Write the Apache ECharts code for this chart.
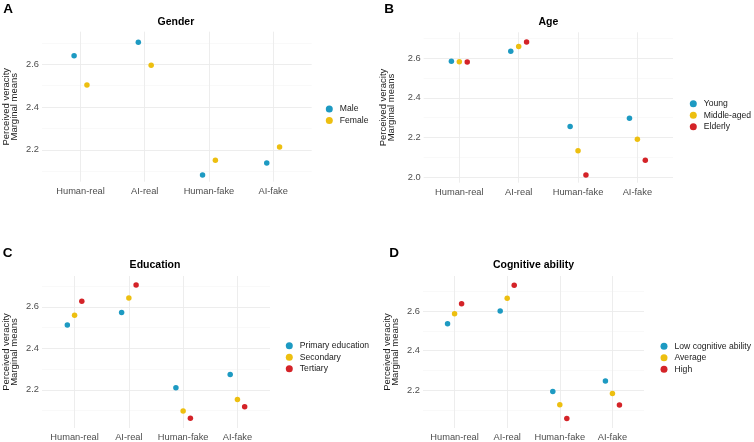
<!DOCTYPE html>
<html>
<head>
<meta charset="utf-8">
<script src="https://cdn.jsdelivr.net/npm/echarts@6/dist/echarts.min.js"></script>
<style>
  html, body { margin: 0; padding: 0; background: #fff; }
  #chart { width: 754px; height: 442px; }
</style>
</head>
<body>
<div id="chart"></div>
<script>
const categories = ['Human-real', 'AI-real', 'Human-fake', 'AI-fake'];

// A - gender
const genderGroups = ['Male', 'Female'];
const genderMale = [2.640, 2.703, 2.083, 2.139];
const genderFemale = [2.503, 2.595, 2.152, 2.214];

// B - age
const ageGroups = ['Young', 'Middle-aged', 'Elderly'];
const ageYoung = [2.585, 2.635, 2.255, 2.297];
const ageMiddle = [2.583, 2.659, 2.132, 2.191];
const ageElderly = [2.581, 2.682, 2.010, 2.085];

// C - education
const eduGroups = ['Primary education', 'Secondary', 'Tertiary'];
const eduPrimary = [2.512, 2.573, 2.210, 2.274];
const eduSecondary = [2.560, 2.643, 2.097, 2.153];
const eduTertiary = [2.627, 2.705, 2.062, 2.118];

// D - cognitive ability
const cogGroups = ['Low cognitive ability', 'Average', 'High'];
const cogLow = [2.537, 2.602, 2.193, 2.246];
const cogAverage = [2.588, 2.666, 2.126, 2.183];
const cogHigh = [2.638, 2.732, 2.056, 2.124];

// y tick labels (major) and minor gridlines
const ticksA = [2.2, 2.4, 2.6];
const ticksB = [2.0, 2.2, 2.4, 2.6];
const ticksC = [2.2, 2.4, 2.6];
const ticksD = [2.2, 2.4, 2.6];
const minorA = [2.1, 2.3, 2.5, 2.7];
const minorB = [2.1, 2.3, 2.5, 2.7];
const minorC = [2.1, 2.3, 2.5, 2.7];
const minorD = [2.1, 2.3, 2.5, 2.7];

const COLORS = ['#1D9AC2', '#EDBF10', '#D42328'];
const FONT = '"Liberation Sans", Arial, sans-serif';
const DODGE = 0.4;

const panels = [
  { letter: 'A', title: 'Gender', groups: genderGroups, series: [genderMale, genderFemale],
    ticks: ticksA, minor: minorA, yMin: 2.0514, yMax: 2.752,
    grid: { left: 40, top: 31.7, width: 271.7, height: 150 }, nameGap: 24,
    legend: { left: 325.8, top: 104.5 }, letterPos: [8, 9], titleY: 22 },
  { letter: 'B', title: 'Age', groups: ageGroups, series: [ageYoung, ageMiddle, ageElderly],
    ticks: ticksB, minor: minorB, yMin: 1.971, yMax: 2.7314,
    grid: { left: 423.7, top: 32.3, width: 249.3, height: 150.4 }, nameGap: 28,
    legend: { left: 689.8, top: 99.2 }, letterPos: [389, 9], titleY: 22 },
  { letter: 'C', title: 'Education', groups: eduGroups, series: [eduPrimary, eduSecondary, eduTertiary],
    ticks: ticksC, minor: minorC, yMin: 2.0154, yMax: 2.749,
    grid: { left: 40, top: 276, width: 230, height: 152.3 }, nameGap: 24,
    legend: { left: 285.8, top: 341.2 }, letterPos: [7.5, 253], titleY: 265.3 },
  { letter: 'D', title: 'Cognitive ability', groups: cogGroups, series: [cogLow, cogAverage, cogHigh],
    ticks: ticksD, minor: minorD, yMin: 2.0076, yMax: 2.779,
    grid: { left: 423, top: 276, width: 221, height: 152.3 }, nameGap: 24,
    legend: { left: 660.5, top: 341.8 }, letterPos: [394, 253], titleY: 265.3 }
];

const grid = [], xAxis = [], yAxis = [], series = [], legend = [], graphic = [];

panels.forEach((p, k) => {
  grid.push(Object.assign({ containLabel: false }, p.grid));

  xAxis.push({
    type: 'value', gridIndex: k, min: 0.4, max: 4.6,
    axisLine: { show: false }, axisTick: { show: false }, splitLine: { show: false },
    axisLabel: {
      customValues: [1, 2, 3, 4],
      formatter: v => categories[Math.round(v) - 1],
      color: '#4D4D4D', fontSize: 9.3, fontFamily: FONT, margin: 5
    }
  });

  yAxis.push({
    type: 'value', gridIndex: k, min: p.yMin, max: p.yMax,
    axisLine: { show: false }, axisTick: { show: false }, splitLine: { show: false },
    axisLabel: {
      customValues: p.ticks,
      formatter: v => v.toFixed(1),
      color: '#4D4D4D', fontSize: 9.3, fontFamily: FONT, margin: 3
    },
    name: 'Perceived veracity\nMarginal means',
    nameLocation: 'middle', nameGap: p.nameGap,
    nameTextStyle: { color: '#1A1A1A', fontSize: 9.5, fontFamily: FONT, lineHeight: 8 }
  });

  // panel gridlines (ggplot theme_minimal look), kept under the points
  const major = { color: '#EBEBEB', width: 0.9, type: 'solid' };
  const minor = { color: '#F5F5F5', width: 0.6, type: 'solid' };
  series.push({
    name: 'grid' + p.letter, type: 'scatter', xAxisIndex: k, yAxisIndex: k,
    data: [], z: 0, zlevel: 0, silent: true,
    markLine: {
      z: 0, silent: true, symbol: 'none', animation: false,
      label: { show: false }, emphasis: { disabled: true },
      data: [
        ...p.minor.map(v => ({ yAxis: v, lineStyle: minor })),
        ...p.ticks.map(v => ({ yAxis: v, lineStyle: major })),
        ...categories.map((c, i) => ({ xAxis: i + 1, lineStyle: major }))
      ]
    }
  });

  const n = p.groups.length;
  p.groups.forEach((g, gi) => {
    const off = (gi - (n - 1) / 2) * (DODGE / n);
    series.push({
      name: g, type: 'scatter', xAxisIndex: k, yAxisIndex: k, z: 10,
      symbol: 'circle', symbolSize: 5.5,
      itemStyle: { color: COLORS[gi], opacity: 1 },
      data: p.series[gi].map((v, i) => [i + 1 + off, v])
    });
  });

  legend.push({
    data: p.groups, orient: 'vertical',
    left: p.legend.left, top: p.legend.top, padding: 0,
    icon: 'circle', itemWidth: 7, itemHeight: 7, itemGap: 2.5,
    selectedMode: false,
    textStyle: { color: '#1A1A1A', fontSize: 8.6, fontFamily: FONT, padding: [0, 0, 0, 2] }
  });

  graphic.push({
    type: 'text', x: p.letterPos[0], y: p.letterPos[1],
    style: { text: p.letter, font: 'bold 13.5px ' + FONT, fill: '#000', align: 'center', verticalAlign: 'middle' }
  });
  graphic.push({
    type: 'text', x: p.grid.left + p.grid.width / 2, y: p.titleY,
    style: { text: p.title, font: 'bold 10.5px ' + FONT, fill: '#000', align: 'center', verticalAlign: 'middle' }
  });
});

const chart = echarts.init(document.getElementById('chart'), null, { renderer: 'canvas' });
chart.setOption({
  animation: false,
  backgroundColor: '#fff',
  grid, xAxis, yAxis, series, legend, graphic
});
</script>
</body>
</html>
